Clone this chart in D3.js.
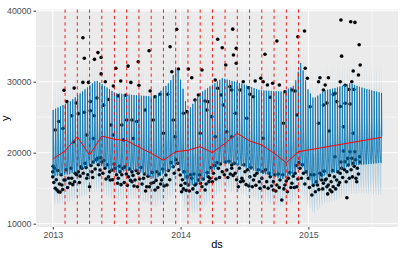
<!DOCTYPE html>
<html>
<head>
<meta charset="utf-8">
<script src="https://cdn.jsdelivr.net/npm/d3@7"></script>
<style>
  body { margin: 0; background: #fff; }
  svg { display: block; }
  text { font-family: "Liberation Sans", Arial, sans-serif; }
</style>
</head>
<body>
<div id="chart"></div>
<script>
// ---- data ----
var startDate = "2013-01-01";
var historyEnd = 880;   // days after start, last observation
var forecastEnd = 940;  // days after start, end of forecast

var changepoints = ["2013-02-05", "2013-03-12", "2013-04-16", "2013-05-21", "2013-06-26",
  "2013-07-31", "2013-09-04", "2013-10-09", "2013-11-13", "2013-12-18", "2014-01-22",
  "2014-02-26", "2014-04-02", "2014-05-08", "2014-06-12", "2014-07-17", "2014-08-21",
  "2014-09-25", "2014-10-30", "2014-12-04"];

// trend knots: day offset / value
var trendDays = [0, 35, 70, 105, 140, 176, 211, 246, 281, 316, 351, 386, 421, 456, 492, 527, 562, 597, 632, 667, 702, 940];
var trendValues = [19110, 20240, 22250, 19680, 22350, 21890, 21690, 20780, 19920, 18930, 20140,
  20340, 20850, 20000, 21320, 22730, 21650, 21090, 19920, 18590, 20140, 22170];

// envelope of the weekly zig-zag of yhat (peak day / low day)
var envDays   = [0, 49, 124, 178, 235, 292, 335, 355, 372, 385, 421, 484, 535, 592, 658, 690, 709, 728, 745, 778, 806, 849, 880, 940];
var envTop    = [26000, 27200, 30200, 28400, 28100, 27900, 30000, 32100, 29000, 25800, 28400, 30500,
  29800, 28800, 28600, 29500, 32800, 29000, 27600, 28800, 29100, 29800, 29200, 28400];
var envBottom = [16700, 17000, 18600, 17200, 17600, 16300, 17600, 18600, 17000, 15300, 15800, 18600,
  18200, 17200, 16300, 17100, 18400, 16700, 15300, 16900, 17200, 18200, 18300, 18600];
// share of the weekly swing for each day of the cycle
var weekShare = [0.0, 1.0, 0.38, 0.2, 0.12, 0.05, 0.0];
// half width of the uncertainty band
var bandDays = [0, 880, 940];
var bandHalf = [4000, 4000, 4600];

// observations: [day offset, value]
var obsHigh = [[86,36200],[90,33300],[129,34100],[119,33150],[138,33400],[138,31100],[180,31900],[215,32200],
  [244,32800],[32,28800],[61,29100],[86,29900],[102,29900],[150,30000],[173,29400],[194,30100],[223,29900],
  [246,29500],[186,28000],[208,28100],[40,27200],[67,27000],[126,27700],[107,27200],[159,27500],[145,26700],
  [107,25900],[354,37380],[335,34930],[275,34370],[471,35970],[484,34790],[516,33760],[494,32350],[359,31790],
  [387,31790],[426,31650],[397,30560],[340,31410],[464,30240],[278,28690],[306,28230],[328,28230],[292,27890],
  [416,28130],[435,27280],[443,27180],[406,27420],[481,28130],[506,29300],[471,29070],[264,26020],[383,25780],
  [373,25550],[440,26020],[487,26720],[454,25080],[514,37400],[524,34700],[524,32600],[606,33860],[640,35730],
  [700,36340],[719,37140],[544,30000],[559,29150],[578,30100],[594,30480],[601,30000],[613,29540],[628,29780],
  [647,29540],[663,28590],[683,28830],[692,28690],[621,27800],[563,28230],[573,27890],[535,28830],[511,28830],
  [763,30560],[787,30560],[778,29540],[759,30000],[727,30480],[721,31890],[773,28830],[521,25550],[554,24840],
  [697,25310],[773,26720],[735,26480],[801,28200],[821,30000],[835,29500],[854,30000],[858,31500],[873,30950],
  [878,32350],[825,33600],[875,35200],[823,38700],[851,38450],[863,38350],[806,28350],[811,27200],[783,27000],
  [835,26960],[849,26860],[860,28900],[846,28900],[821,26500]];
var obsMid = [[7,23200],[17,24400],[54,25200],[73,25500],[90,25700],[118,25200],[166,23900],[197,23900],
  [211,24600],[226,24600],[240,24400],[29,23400],[97,22500],[59,21500],[116,22000],[173,22500],[202,21800],
  [230,22000],[344,24610],[349,22250],[497,22960],[316,22730],[287,24610],[464,22250],[421,22730],[511,22250],
  [601,22030],[659,24140],[759,24140],[790,23050],[830,23660],[858,22730]];
var obsLow = [[0,17300],[0,16600],[7,15000],[16,14500],[26,15450],[35,16150],[45,16400],[54,16400],[64,17100],
  [73,17300],[83,17800],[92,18500],[97,16400],[105,15200],[116,18700],[127,19200],[130,18300],[140,18700],
  [149,17800],[159,16600],[169,17560],[178,17800],[187,16400],[197,16900],[206,18000],[216,16600],[226,17300],
  [235,16150],[12,14750],[21,14450],[32,16150],[49,15700],[78,16700],[112,17300],[135,17560],[164,16150],
  [192,17300],[226,15900],[1,18100],[242,15200],[244,17100],[259,16390],[268,15210],[281,15690],[297,17320],
  [311,16150],[323,16860],[326,15450],[344,18030],[357,18510],[364,16860],[378,15690],[387,15450],[397,16390],
  [406,15450],[416,16150],[426,15210],[435,14750],[446,15920],[459,17100],[473,17800],[484,17320],[497,17560],
  [511,18270],[292,14750],[368,14500],[444,16620],[511,17800],[521,17100],[540,16390],[549,17320],[563,16620],
  [573,16150],[583,17100],[597,16390],[611,15920],[621,16620],[630,15920],[640,15450],[649,16150],[654,13340],
  [663,15450],[673,16390],[683,15690],[692,17100],[706,17800],[716,17100],[730,16390],[740,14040],[750,14500],
  [756,15450],[768,16150],[783,15210],[530,15210],[592,14980],[630,14750],[697,15210],[768,16860],[778,16150],
  [787,15450],[792,14750],[801,15210],[811,16150],[821,17100],[825,17800],[835,18730],[840,17320],[844,18270],
  [854,19210],[858,18510],[866,16390],[870,17800],[876,19440],[863,20140],[849,20140],[830,20240],[806,19440],
  [840,13660],[773,15690],[797,14500],[816,15450],
  [3,15800],[5,17800],[10,16200],[14,17500],[19,15600],[24,16900],[28,14800],[38,17600],[42,15100],[52,17800],
  [57,15500],[62,15900],[68,16900],[76,15800],[80,18000],[87,17100],[95,17900],[100,16900],[109,18200],
  [114,16500],[121,17700],[124,19000],[133,16900],[137,19300],[143,17100],[146,18900],[152,16300],[156,18300],
  [162,17300],[171,16200],[175,18400],[182,16900],[185,15700],[190,18100],[195,15500],[200,17800],[204,15800],
  [210,17000],[213,15400],[219,17700],[222,16100],[229,16800],[232,15300],[238,17500],[248,16300],[252,17900],
  [255,15600],[262,17000],[265,14600],[272,16700],[276,15200],[284,17200],[288,15800],[295,16100],[300,15100],
  [304,17000],[308,15600],[314,17700],[318,15300],[330,17500],[334,16200],[338,18600],[347,17100],[352,19000],
  [360,17600],[366,15400],[370,16200],[373,14900],[375,17300],[381,14700],[384,16600],[390,14600],[393,16900],
  [400,14900],[403,17000],[409,15600],[412,14400],[419,16900],[422,15700],[430,16300],[438,15600],[441,17200],
  [449,16400],[452,17900],[456,15900],[462,18200],[466,16300],[469,18600],[476,16500],[479,18400],[490,16900],
  [493,18700],[500,16500],[503,18800],[507,17000],[515,16800],[518,18500],[525,16200],[533,17800],[536,15900],
  [544,16000],[546,18300],[552,15500],[556,17600],[560,15300],[566,17900],[570,15200],[577,16800],[580,15400],
  [587,17600],[590,15900],[600,17300],[604,15200],[608,17600],[615,15000],[618,17100],[625,15300],[634,16900],
  [637,14600],[644,17000],[647,15100],[657,16900],[660,14900],[667,16000],[670,14500],[677,17200],[680,15100],
  [687,16700],[690,15100],[695,18200],[700,16300],[703,18600],[710,16400],[713,18300],[720,15600],[724,17300],
  [733,15100],[737,16900],[744,15400],[746,16900],[753,15900],[760,14800],[763,17100],[771,14900],[775,17400],
  [781,16300],[785,14200],[790,16800],[795,15900],[799,17500],[804,16600],[808,14900],[814,17300],[819,15800],
  [823,18700],[828,16500],[833,17600],[838,15900],[842,19200],[847,16400],[852,17600],[856,16600],[861,18100],
  [865,19000],[868,15900],[873,17000],[877,18700]];

var yTicks = [10000, 20000, 30000, 40000];
var yMinor = [15000, 25000, 35000];
var xTickLabels = ["2013", "2014", "2015"];

// ---- chart ----
var width = 400, height = 258;
var panel = { left: 36, right: 398, top: 9.5, bottom: 227 };

var parse = d3.timeParse("%Y-%m-%d");
var t0 = parse(startDate);
function toDate(day) { return d3.timeDay.offset(t0, day); }

var x = d3.scaleTime()
    .domain([toDate(-48), toDate(986)])
    .range([panel.left, panel.right]);
var y = d3.scaleLinear()
    .domain([9535, 40170])
    .range([panel.bottom, panel.top]);

var envHigh = d3.scaleLinear().domain(envDays).range(envTop);
var envLow = d3.scaleLinear().domain(envDays).range(envBottom);
var bandHalfAt = d3.scaleLinear().domain(bandDays).range(bandHalf);

var forecast = d3.range(0, forecastEnd + 1).map(function(d) {
  var yhat = envLow(d) + (envHigh(d) - envLow(d)) * weekShare[d % 7];
  return { ds: toDate(d), yhat: yhat, lower: yhat - bandHalfAt(d), upper: yhat + bandHalfAt(d) };
});

var svg = d3.select("#chart").append("svg")
    .attr("width", width)
    .attr("height", height);

svg.append("rect")
    .attr("x", panel.left).attr("y", panel.top)
    .attr("width", panel.right - panel.left)
    .attr("height", panel.bottom - panel.top)
    .attr("fill", "#EBEBEB");

var grid = svg.append("g");
var xMajor = xTickLabels.map(function(s) { return parse(s + "-01-01"); });
var xMinor = ["2013-07-02", "2014-07-02", "2015-07-02"].map(parse);

grid.selectAll(".ymin").data(yMinor).enter().append("line")
    .attr("x1", panel.left).attr("x2", panel.right)
    .attr("y1", y).attr("y2", y)
    .attr("stroke", "#fff").attr("stroke-width", 0.5);
grid.selectAll(".xmin").data(xMinor).enter().append("line")
    .attr("y1", panel.top).attr("y2", panel.bottom)
    .attr("x1", x).attr("x2", x)
    .attr("stroke", "#fff").attr("stroke-width", 0.5);
grid.selectAll(".ymaj").data(yTicks).enter().append("line")
    .attr("x1", panel.left).attr("x2", panel.right)
    .attr("y1", y).attr("y2", y)
    .attr("stroke", "#fff").attr("stroke-width", 1);
grid.selectAll(".xmaj").data(xMajor).enter().append("line")
    .attr("y1", panel.top).attr("y2", panel.bottom)
    .attr("x1", x).attr("x2", x)
    .attr("stroke", "#fff").attr("stroke-width", 1);

// observed points
var obs = obsHigh.concat(obsMid, obsLow).filter(function(p) { return p[0] <= historyEnd; });
svg.append("g").selectAll("circle")
    .data(obs)
    .enter().append("circle")
    .attr("cx", function(d) { return x(toDate(d[0])); })
    .attr("cy", function(d) { return y(d[1]); })
    .attr("r", 1.8)
    .attr("fill", "#000");

// yhat
svg.append("path")
    .datum(forecast)
    .attr("fill", "none")
    .attr("stroke", "#0072B2")
    .attr("stroke-width", 0.8)
    .attr("d", d3.line()
        .x(function(d) { return x(d.ds); })
        .y(function(d) { return y(d.yhat); }));

// uncertainty ribbon
svg.append("path")
    .datum(forecast)
    .attr("fill", "#0072B2")
    .attr("fill-opacity", 0.22)
    .attr("d", d3.area()
        .x(function(d) { return x(d.ds); })
        .y0(function(d) { return y(d.lower); })
        .y1(function(d) { return y(d.upper); }));

// trend
svg.append("path")
    .datum(d3.zip(trendDays, trendValues))
    .attr("fill", "none")
    .attr("stroke", "red")
    .attr("stroke-width", 1)
    .attr("d", d3.line()
        .x(function(d) { return x(toDate(d[0])); })
        .y(function(d) { return y(d[1]); }));

// changepoints
svg.append("g").selectAll("line")
    .data(changepoints.map(parse))
    .enter().append("line")
    .attr("x1", x).attr("x2", x)
    .attr("y1", panel.top).attr("y2", panel.bottom)
    .attr("stroke", "red")
    .attr("stroke-width", 0.9)
    .attr("stroke-dasharray", "3.2,3.2");

// axes
var xAxis = svg.append("g")
    .attr("transform", "translate(0," + panel.bottom + ")")
    .call(d3.axisBottom(x).tickValues(xMajor).tickFormat(d3.timeFormat("%Y")).tickSize(2.5).tickPadding(2));
var yAxis = svg.append("g")
    .attr("transform", "translate(" + panel.left + ",0)")
    .call(d3.axisLeft(y).tickValues(yTicks).tickFormat(d3.format("d")).tickSize(2.5).tickPadding(2));

[xAxis, yAxis].forEach(function(a) {
  a.select(".domain").remove();
  a.selectAll(".tick line").attr("stroke", "#333333");
  a.selectAll(".tick text")
      .attr("fill", "#4D4D4D")
      .style("font-size", "8.8px")
      .style("font-family", "'Liberation Sans', Arial, sans-serif");
});

svg.append("text")
    .attr("x", (panel.left + panel.right) / 2)
    .attr("y", 248)
    .attr("text-anchor", "middle")
    .style("font-size", "11px")
    .attr("fill", "#000")
    .text("ds");

svg.append("text")
    .attr("transform", "translate(9," + (panel.top + panel.bottom) / 2 + ") rotate(-90)")
    .attr("text-anchor", "middle")
    .style("font-size", "11px")
    .attr("fill", "#000")
    .text("y");
</script>
</body>
</html>
